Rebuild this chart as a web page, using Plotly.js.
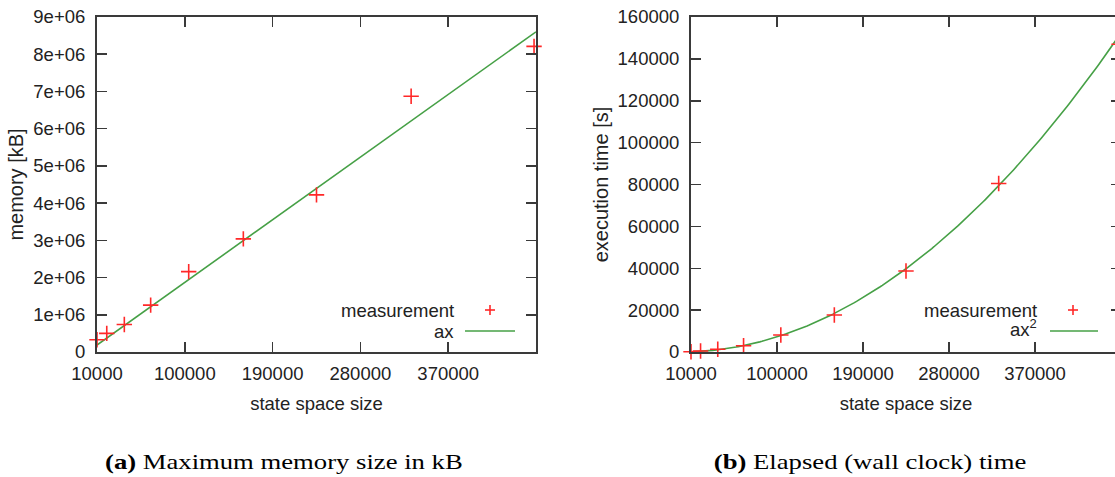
<!DOCTYPE html>
<html>
<head>
<meta charset="utf-8">
<script src="https://cdn.plot.ly/plotly-3.0.1.min.js"></script>
<style>
html, body { margin: 0; padding: 0; background: #fff; overflow: hidden; width: 1115px; height: 477px; }
#chart { width: 1125px; height: 477px; }
.wide-caption { transform: scaleX(1.27); transform-box: fill-box; transform-origin: center; }
</style>
</head>
<body>
<div id="chart"></div>
<script>
// ---- data ----
var stateSpace = [10000, 20000, 38000, 65000, 104000, 160000, 235000, 332000, 458000];
var memoryKB = [330000, 500000, 740000, 1260000, 2160000, 3040000, 4220000, 6870000, 8210000];
var timeSec = [150, 500, 1300, 3000, 8100, 17700, 38700, 80500, 147000];
var fitA_mem = 18.7;      // memory = a*x
var fitA_time = 7.2e-7;   // time = a*x^2
var fitRange = [10000, 460000];

var xTickVals = [10000, 100000, 190000, 280000, 370000];
var xTickText = ['10000', '100000', '190000', '280000', '370000'];
var memTickVals = [0, 1e6, 2e6, 3e6, 4e6, 5e6, 6e6, 7e6, 8e6, 9e6];
var memTickText = ['0', '1e+06', '2e+06', '3e+06', '4e+06', '5e+06', '6e+06', '7e+06', '8e+06', '9e+06'];
var timeTickVals = [0, 20000, 40000, 60000, 80000, 100000, 120000, 140000, 160000];
var timeTickText = ['0', '20000', '40000', '60000', '80000', '100000', '120000', '140000', '160000'];

// fit curves sampled along x
var fitX = [];
for (var i = 0; i <= 200; i++) fitX.push(fitRange[0] + (fitRange[1] - fitRange[0]) * i / 200);
var fitMem = fitX.map(function (x) { return fitA_mem * x; });
var fitTime = fitX.map(function (x) { return fitA_time * x * x; });

// ---- styling ----
var W = 1125, H = 477, T = 17, B = 352;
var red = 'rgb(255,40,40)';
var green = 'rgb(70,160,70)';
var axisCol = '#3a3a3a';
var font = 'Liberation Sans, Arial, sans-serif';
function px(x) { return x / W; }
function py(y) { return (B - y) / (B - T); }

var markerStyle = { symbol: 'cross-thin', size: 11, line: { color: red, width: 1.6 }, color: red };
var lineStyle = { color: green, width: 1.6 };

var traces = [
  { x: fitX, y: fitMem, mode: 'lines', line: lineStyle, xaxis: 'x', yaxis: 'y', showlegend: false, hoverinfo: 'skip' },
  { x: stateSpace, y: memoryKB, mode: 'markers', marker: markerStyle, xaxis: 'x', yaxis: 'y', showlegend: false, cliponaxis: false },
  { x: fitX, y: fitTime, mode: 'lines', line: lineStyle, xaxis: 'x2', yaxis: 'y2', showlegend: false, hoverinfo: 'skip' },
  { x: stateSpace, y: timeSec, mode: 'markers', marker: markerStyle, xaxis: 'x2', yaxis: 'y2', showlegend: false, cliponaxis: false }
];

function xAxis(domain, anchor) {
  return {
    domain: domain, anchor: anchor, range: fitRange, tickmode: 'array',
    tickvals: xTickVals, ticktext: xTickText,
    showline: true, mirror: 'ticks', linecolor: axisCol, linewidth: 2,
    ticks: 'inside', ticklen: 10, tickwidth: 1.5, tickcolor: axisCol,
    showgrid: false, zeroline: false, ticklabelstandoff: 4,
    tickfont: { family: font, size: 18.5, color: '#222' },
    title: { text: 'state space size', font: { family: font, size: 18.5, color: '#222' }, standoff: 14 }
  };
}
function yAxis(domain, anchor, range, vals, text, title) {
  return {
    domain: domain, anchor: anchor, range: range, tickmode: 'array',
    tickvals: vals, ticktext: text,
    showline: true, mirror: 'ticks', linecolor: axisCol, linewidth: 2,
    ticks: 'inside', ticklen: 10, tickwidth: 1.5, tickcolor: axisCol,
    showgrid: false, zeroline: false, ticklabelstandoff: 6,
    tickfont: { family: font, size: 18.5, color: '#222' },
    title: { text: title, font: { family: font, size: 20, color: '#222' }, standoff: 4 }
  };
}

var capFont = { family: 'Liberation Serif, Times New Roman, serif', size: 21, color: '#000' };
var legFont = { family: font, size: 18.5, color: '#222' };

var annotations = [
  { xref: 'paper', yref: 'paper', x: px(284), y: py(462), text: '<b>(a)</b> Maximum memory size in kB', showarrow: false, font: capFont, xanchor: 'center', yanchor: 'middle' },
  { xref: 'paper', yref: 'paper', x: px(870), y: py(462), text: '<b>(b)</b> Elapsed (wall clock) time', showarrow: false, font: capFont, xanchor: 'center', yanchor: 'middle' },
  { xref: 'paper', yref: 'paper', x: px(456), y: py(310), text: 'measurement', showarrow: false, font: legFont, xanchor: 'right', yanchor: 'middle' },
  { xref: 'paper', yref: 'paper', x: px(456), y: py(331), text: 'ax', showarrow: false, font: legFont, xanchor: 'right', yanchor: 'middle' },
  { xref: 'paper', yref: 'paper', x: px(1039), y: py(310), text: 'measurement', showarrow: false, font: legFont, xanchor: 'right', yanchor: 'middle' },
  { xref: 'paper', yref: 'paper', x: px(1039), y: py(328), text: 'ax<sup>2</sup>', showarrow: false, font: legFont, xanchor: 'right', yanchor: 'middle' }
];

function cross(cx, cy) {
  return [
    { type: 'line', xref: 'paper', yref: 'paper', x0: px(cx - 5), x1: px(cx + 5), y0: py(cy), y1: py(cy), line: { color: red, width: 1.6 } },
    { type: 'line', xref: 'paper', yref: 'paper', x0: px(cx), x1: px(cx), y0: py(cy - 5), y1: py(cy + 5), line: { color: red, width: 1.6 } }
  ];
}
var shapes = [].concat(
  cross(490, 310), cross(1073, 310),
  [
    { type: 'line', xref: 'paper', yref: 'paper', x0: px(465), x1: px(515), y0: py(331), y1: py(331), line: lineStyle },
    { type: 'line', xref: 'paper', yref: 'paper', x0: px(1050), x1: px(1098), y0: py(331), y1: py(331), line: lineStyle }
  ]
);

var layout = {
  width: W, height: H,
  margin: { l: 0, r: 0, t: T, b: H - B, pad: 0 },
  paper_bgcolor: '#fff', plot_bgcolor: '#fff',
  showlegend: false,
  xaxis: xAxis([px(97), px(536)], 'y'),
  yaxis: yAxis([0, 1], 'x', [0, 9e6], memTickVals, memTickText, 'memory [kB]'),
  xaxis2: xAxis([px(691), px(1121)], 'y2'),
  yaxis2: yAxis([0, 1], 'x2', [0, 160000], timeTickVals, timeTickText, 'execution time [s]'),
  annotations: annotations,
  shapes: shapes
};

Plotly.newPlot('chart', traces, layout, { staticPlot: true, displayModeBar: false }).then(function (gd) {
  // the reference captions are set in a horizontally wide serif; stretch them to match
  var texts = gd.querySelectorAll('.annotation-text');
  texts.forEach(function (t) {
    var s = t.textContent;
    if (s.indexOf('Maximum') >= 0 || s.indexOf('Elapsed') >= 0) t.classList.add('wide-caption');
  });
});
</script>
</body>
</html>
